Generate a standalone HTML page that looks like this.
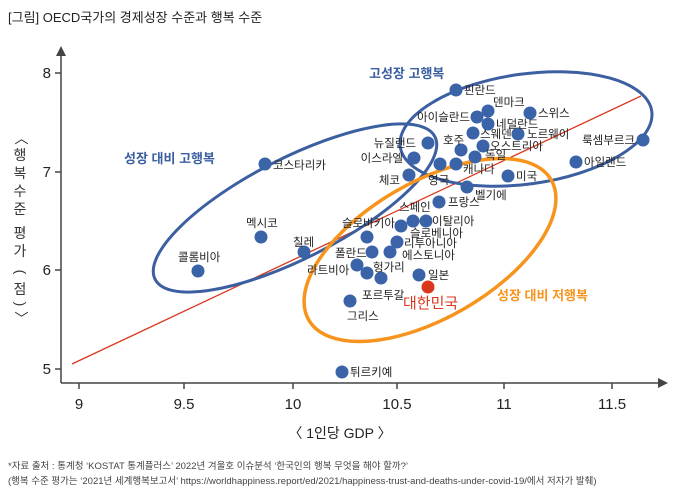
<!DOCTYPE html>
<html><head><meta charset="utf-8"><style>
body{margin:0;background:#fff;}
svg text{font-family:"Liberation Sans","Noto Sans CJK KR",sans-serif;}
</style></head><body>
<svg width="683" height="498" viewBox="0 0 683 498" xmlns="http://www.w3.org/2000/svg">
<text x="8" y="22" font-size="13" fill="#222">[그림] OECD국가의 경제성장 수준과 행복 수준</text>
<g stroke="#444" stroke-width="1.5" fill="none">
<line x1="61" y1="383" x2="61" y2="52"/>
<line x1="61" y1="383" x2="660" y2="383"/>
<line x1="55" y1="73" x2="61" y2="73"/><line x1="55" y1="172" x2="61" y2="172"/>
<line x1="55" y1="270" x2="61" y2="270"/><line x1="55" y1="369" x2="61" y2="369"/>
<line x1="79" y1="383" x2="79" y2="389"/><line x1="184" y1="383" x2="184" y2="389"/>
<line x1="293" y1="383" x2="293" y2="389"/><line x1="397" y1="383" x2="397" y2="389"/>
<line x1="504" y1="383" x2="504" y2="389"/><line x1="612" y1="383" x2="612" y2="389"/>
</g>
<polygon points="61,46 56,56 66,56" fill="#444"/>
<polygon points="668,383 658,378 658,388" fill="#444"/>
<g font-size="15" fill="#222" text-anchor="end">
<text x="51" y="78">8</text><text x="51" y="177">7</text><text x="51" y="275">6</text><text x="51" y="374">5</text>
</g>
<g font-size="15" fill="#222" text-anchor="middle">
<text x="79" y="409">9</text><text x="184" y="409">9.5</text><text x="293" y="409">10</text>
<text x="397" y="409">10.5</text><text x="504" y="409">11</text><text x="612" y="409">11.5</text>
</g>
<text x="340" y="438" font-size="14" fill="#222" text-anchor="middle">〈 1인당 GDP 〉</text>
<g font-size="14" fill="#333" text-anchor="middle">
<text x="20" y="142" transform="rotate(90 20 138)">〈</text>
<text x="20" y="160">행</text><text x="20" y="178">복</text><text x="20" y="196">수</text><text x="20" y="214">준</text>
<text x="20" y="238">평</text><text x="20" y="256">가</text>
<text x="20" y="276" transform="rotate(90 20 272)">(</text>
<text x="20" y="294">점</text>
<text x="20" y="308" transform="rotate(90 20 304)">)</text>
<text x="20" y="322" transform="rotate(90 20 318)">〉</text>
</g>
<line x1="72" y1="364" x2="641" y2="96" stroke="#d9381e" stroke-width="1.3"/>
<g fill="none" stroke-width="3">
<ellipse cx="526" cy="129" rx="127" ry="55" transform="rotate(-8 526 129)" stroke="#3b5fa0"/>
<ellipse cx="295" cy="208" rx="157" ry="50" transform="rotate(-27 295 208)" stroke="#3b5fa0"/>
<ellipse cx="430" cy="250" rx="140" ry="68" transform="rotate(-30 430 250)" stroke="#f7941d" stroke-width="3.5"/>
</g>
<text x="369" y="78" font-size="13" font-weight="bold" fill="#3b5fa0">고성장 고행복</text>
<text x="124" y="163" font-size="13" font-weight="bold" fill="#3b5fa0">성장 대비 고행복</text>
<text x="497" y="300" font-size="13" font-weight="bold" fill="#f7941d">성장 대비 저행복</text>
<g fill="#3a63a8">
<circle cx="456" cy="90" r="6.5"/><circle cx="488" cy="111" r="6.5"/><circle cx="477" cy="117" r="6.5"/>
<circle cx="530" cy="113" r="6.5"/><circle cx="488" cy="124" r="6.5"/><circle cx="473" cy="133" r="6.5"/>
<circle cx="518" cy="134" r="6.5"/><circle cx="428" cy="143" r="6.5"/><circle cx="461" cy="150" r="6.5"/>
<circle cx="483" cy="146" r="6.5"/><circle cx="643" cy="140" r="6.5"/><circle cx="414" cy="158" r="6.5"/>
<circle cx="475" cy="157" r="6.5"/><circle cx="440" cy="164" r="6.5"/><circle cx="456" cy="164" r="6.5"/>
<circle cx="576" cy="162" r="6.5"/><circle cx="409" cy="175" r="6.5"/><circle cx="508" cy="176" r="6.5"/>
<circle cx="467" cy="187" r="6.5"/><circle cx="439" cy="202" r="6.5"/><circle cx="413" cy="221" r="6.5"/>
<circle cx="426" cy="221" r="6.5"/><circle cx="401" cy="226" r="6.5"/><circle cx="367" cy="237" r="6.5"/>
<circle cx="397" cy="242" r="6.5"/><circle cx="304" cy="252" r="6.5"/><circle cx="261" cy="237" r="6.5"/>
<circle cx="372" cy="252" r="6.5"/><circle cx="390" cy="252" r="6.5"/><circle cx="357" cy="265" r="6.5"/>
<circle cx="367" cy="273" r="6.5"/><circle cx="381" cy="278" r="6.5"/><circle cx="419" cy="275" r="6.5"/>
<circle cx="350" cy="301" r="6.5"/><circle cx="198" cy="271" r="6.5"/><circle cx="265" cy="164" r="6.5"/>
<circle cx="342" cy="372" r="6.5"/>
</g>
<circle cx="428" cy="287" r="6.5" fill="#d9381e"/>
<g font-size="11.5" fill="#222">
<text x="464" y="94">핀란드</text>
<text x="493" y="106">덴마크</text>
<text x="470" y="121" text-anchor="end">아이슬란드</text>
<text x="538" y="117">스위스</text>
<text x="496" y="128">네덜란드</text>
<text x="480" y="138">스웨덴</text>
<text x="527" y="138">노르웨이</text>
<text x="416" y="147" text-anchor="end">뉴질랜드</text>
<text x="443" y="144">호주</text>
<text x="490" y="150">오스트리아</text>
<text x="635" y="144" text-anchor="end">룩셈부르크</text>
<text x="403" y="162" text-anchor="end">이스라엘</text>
<text x="485" y="159">독일</text>
<text x="428" y="184">영국</text>
<text x="463" y="173">캐나다</text>
<text x="584" y="166">아일랜드</text>
<text x="400" y="184" text-anchor="end">체코</text>
<text x="516" y="180">미국</text>
<text x="475" y="199">벨기에</text>
<text x="448" y="206">프랑스</text>
<text x="399" y="211">스페인</text>
<text x="432" y="225">이탈리아</text>
<text x="342" y="227">슬로바키아</text>
<text x="410" y="237">슬로베니아</text>
<text x="404" y="247">리투아니아</text>
<text x="293" y="246">칠레</text>
<text x="246" y="227">멕시코</text>
<text x="335" y="257">폴란드</text>
<text x="402" y="259">에스토니아</text>
<text x="307" y="274">라트비아</text>
<text x="373" y="271">헝가리</text>
<text x="428" y="279">일본</text>
<text x="362" y="299">포르투갈</text>
<text x="347" y="320">그리스</text>
<text x="178" y="261">콜롬비아</text>
<text x="273" y="169">코스타리카</text>
<text x="350" y="376">튀르키예</text>
</g>
<text x="403" y="308" font-size="15" fill="#d9381e">대한민국</text>
<g font-size="9.5" fill="#444">
<text x="8" y="469">*자료 출처 : 통계청 ‘KOSTAT 통계플러스’ 2022년 겨울호 이슈분석 ‘한국인의 행복 무엇을 해야 할까?’</text>
<text x="8" y="484">(행복 수준 평가는 ‘2021년 세계행복보고서’ https://worldhappiness.report/ed/2021/happiness-trust-and-deaths-under-covid-19/에서 저자가 발췌)</text>
</g>
</svg>
</body></html>
